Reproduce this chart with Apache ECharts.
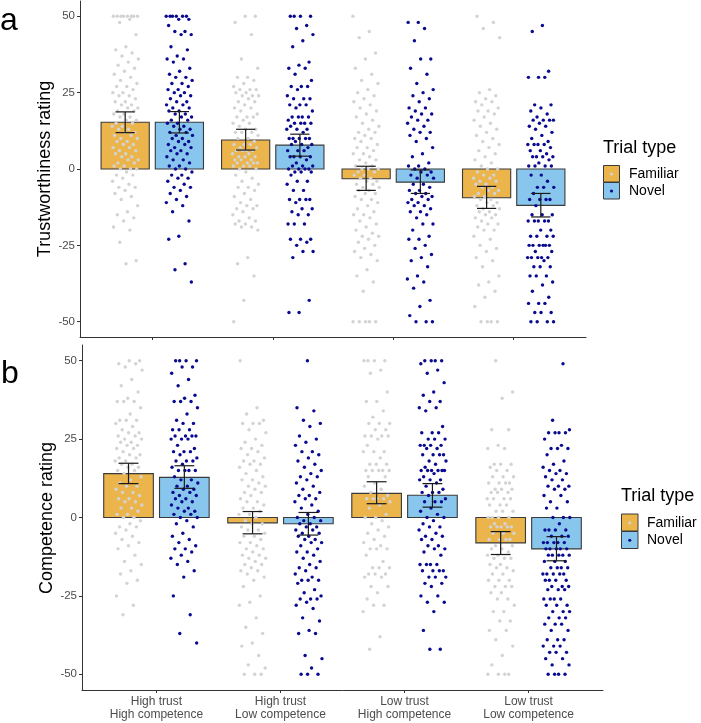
<!DOCTYPE html>
<html><head><meta charset="utf-8">
<script src="https://cdn.jsdelivr.net/npm/echarts@6/dist/echarts.min.js"></script>
<style>html,body{margin:0;padding:0;background:#fff}#c{width:701px;height:723px}</style>
</head><body><div id="c"></div>
<script>
const categories = ['High trust\nHigh competence','High trust\nLow competence','Low trust\nHigh competence','Low trust\nLow competence'];
const yTicks = [-50,-25,0,25,50];
const trialTypes = ['Familiar','Novel'];

// Panel a: trustworthiness rating
const trustFamiliarMean = [15.3, 9.5, -3.2, -9.4];
const trustFamiliarLow  = [11.9, 6.2, -7.0, -12.9];
const trustFamiliarHigh = [18.7, 13.0, 0.9, -5.7];
const trustNovelMean = [15.3, 7.8, -4.3, -11.9];
const trustNovelLow  = [11.8, 4.2, -8.0, -15.7];
const trustNovelHigh = [18.8, 11.4, -0.3, -8.0];

// Panel b: competence rating
const compFamiliarMean = [14.0, -1.7, 7.7, -8.1];
const compFamiliarLow  = [10.8, -5.2, 4.4, -11.8];
const compFamiliarHigh = [17.3, 1.9, 11.4, -4.5];
const compNovelMean = [12.8, -2.0, 7.1, -10.0];
const compNovelLow  = [9.3, -5.6, 3.3, -13.8];
const compNovelHigh = [16.5, 1.6, 10.8, -6.1];

// individual ratings, one list per category
const trustFamiliarPoints = [
 [50,50,50,50,50,50,50,50,49,48,44,40,39,38,37,36,35,34,33,32,31,30,29,28,27,27,26,25,25,24,24,23,22,22,21,21,20,20,19,19,18,18,17,17,16,16,15,15,14,14,13,13,12,12,11,11,10,10,9,9,8,8,7,7,6,6,5,5,4,4,3,3,2,2,1,1,0,0,0,-1,-2,-2,-3,-4,-5,-6,-6,-7,-8,-9,-10,-12,-14,-15,-16,-17,-19,-20,-24,-30,-31],
 [50,50,48,44,36,33,30,30,29,28,27,26,26,26,25,25,24,24,24,23,22,22,21,20,20,19,18,17,17,17,16,15,15,14,13,13,12,12,12,11,10,10,9,8,8,8,7,7,6,6,6,6,5,5,4,4,4,3,3,3,2,2,2,2,1,1,1,0,0,-1,-2,-3,-4,-5,-6,-6,-7,-8,-9,-10,-11,-12,-12,-13,-13,-14,-15,-16,-17,-17,-18,-18,-19,-19,-20,-29,-31,-35,-43,-50],
 [50,45,43,38,36,33,31,29,28,26,25,24,23,22,21,20,19,18,17,16,15,14,13,12,12,11,10,10,9,8,7,7,6,5,5,4,3,3,2,1,1,0,0,0,-1,-1,-2,-2,-3,-3,-4,-4,-5,-5,-6,-6,-7,-7,-8,-8,-9,-10,-10,-11,-12,-13,-14,-15,-15,-16,-17,-18,-19,-20,-21,-22,-22,-23,-24,-25,-26,-27,-28,-29,-30,-33,-35,-37,-40,-50,-50,-50,-50,-50],
 [50,48,46,43,26,25,24,23,22,22,21,20,19,19,18,17,16,15,14,13,12,11,10,9,8,7,6,5,4,3,2,1,0,0,-1,-2,-2,-3,-3,-4,-4,-5,-5,-6,-6,-7,-7,-8,-8,-9,-9,-10,-10,-11,-11,-12,-12,-13,-13,-14,-14,-15,-15,-16,-16,-17,-18,-18,-19,-20,-20,-22,-23,-25,-26,-27,-29,-30,-32,-35,-37,-38,-40,-42,-45,-50,-50,-50,-50]
];
const trustNovelPoints = [
 [50,50,50,50,50,50,49,49,47,45,45,44,44,40,39,37,36,36,35,33,32,31,30,30,29,28,28,27,26,26,25,25,24,24,23,22,22,21,21,20,20,19,19,18,18,17,17,16,16,15,15,14,14,13,13,12,12,11,11,10,10,9,9,8,8,7,7,6,6,5,5,4,3,3,2,1,1,0,0,-1,-2,-2,-3,-3,-4,-5,-6,-6,-7,-8,-9,-10,-11,-12,-14,-17,-22,-23,-31,-33,-37],
 [50,50,50,50,47,46,44,42,40,35,34,33,33,31,29,27,27,27,26,24,23,23,23,21,21,21,20,19,17,17,17,17,16,15,15,15,15,14,13,13,13,12,10,10,10,10,10,9,8,8,8,7,6,6,6,4,4,4,4,3,2,1,1,1,0,0,0,0,-1,-1,-1,-2,-4,-4,-5,-7,-7,-10,-10,-10,-10,-11,-13,-13,-14,-15,-15,-18,-18,-18,-23,-23,-23,-24,-25,-27,-27,-29,-43,-47,-47],
 [48,48,46,42,36,36,33,31,28,26,25,24,23,22,20,20,19,18,18,17,16,16,15,14,13,12,12,11,10,9,7,5,4,2,1,1,0,0,-1,-1,-2,-2,-3,-3,-5,-5,-6,-7,-7,-8,-8,-9,-9,-10,-10,-11,-11,-12,-12,-13,-14,-14,-15,-16,-18,-18,-20,-22,-23,-23,-25,-26,-28,-29,-30,-32,-35,-36,-37,-39,-43,-45,-48,-50,-50,-50],
 [47,45,32,30,30,30,21,21,20,19,18,17,16,16,16,16,15,14,14,13,12,11,10,9,8,8,8,8,7,6,6,5,4,4,4,4,3,2,1,1,1,1,-2,-2,-4,-6,-6,-6,-8,-10,-10,-10,-10,-12,-15,-15,-15,-17,-17,-17,-17,-17,-20,-20,-22,-22,-22,-22,-25,-25,-25,-25,-25,-25,-27,-27,-29,-29,-29,-29,-29,-30,-32,-32,-32,-35,-35,-35,-37,-38,-40,-42,-44,-44,-44,-47,-47,-47,-50,-50,-50,-50]
];
const compFamiliarPoints = [
 [50,50,49,49,48,47,44,42,40,38,37,37,37,35,33,31,31,31,30,29,28,27,27,26,26,25,25,24,24,23,23,22,22,21,20,20,19,19,18,18,17,17,16,16,15,15,14,13,12,11,10,10,9,8,8,7,6,6,5,5,4,3,3,2,1,1,0,0,-1,-2,-3,-3,-4,-5,-6,-7,-8,-9,-10,-12,-14,-15,-17,-18,-20,-21,-25,-28,-31],
 [50,35,33,31,30,30,30,28,27,25,24,23,22,22,21,20,19,18,18,17,17,16,15,14,13,12,12,11,10,10,9,8,8,7,6,5,5,4,3,3,2,1,1,0,-1,-2,-2,-3,-4,-4,-5,-6,-6,-7,-8,-8,-9,-10,-10,-11,-12,-12,-13,-13,-14,-15,-15,-16,-17,-17,-18,-19,-20,-22,-25,-27,-28,-32,-35,-37,-40,-41,-44,-47,-48,-50,-50,-50],
 [50,50,50,50,47,46,40,37,37,34,32,30,30,30,28,28,26,26,26,26,25,23,21,21,21,19,17,17,17,15,15,15,15,15,13,13,11,10,9,8,7,6,6,6,6,5,4,3,1,0,0,-1,-2,-3,-4,-5,-6,-7,-8,-9,-10,-10,-10,-12,-14,-16,-16,-16,-18,-18,-18,-19,-19,-22,-22,-24,-26,-28,-28,-30,-38,-42],
 [50,40,38,28,28,23,22,22,17,17,17,16,15,15,13,13,13,11,11,11,11,9,9,9,8,8,8,6,6,6,6,4,4,4,2,2,2,0,0,0,0,-2,-2,-3,-3,-3,-3,-3,-5,-5,-5,-7,-7,-7,-7,-9,-9,-10,-10,-11,-12,-12,-13,-13,-13,-15,-15,-16,-16,-17,-18,-18,-20,-20,-20,-22,-22,-22,-24,-24,-26,-26,-28,-30,-30,-33,-33,-36,-36,-39,-41,-44,-47,-50,-50,-50,-50]
];
const compNovelPoints = [
 [50,50,50,50,48,48,46,44,42,39,38,37,37,37,35,33,31,30,30,28,28,28,26,26,26,26,25,25,25,23,22,21,21,21,20,19,18,18,18,17,16,15,15,15,15,13,12,12,11,10,10,9,9,8,8,7,7,6,6,5,5,4,3,3,2,2,1,1,0,0,-1,-2,-3,-5,-6,-7,-8,-9,-10,-10,-11,-12,-13,-14,-15,-17,-19,-25,-31,-37,-40],
 [50,35,34,31,30,29,26,25,24,23,21,21,20,19,18,17,16,15,14,13,13,12,11,10,9,8,7,7,6,6,5,4,3,2,1,0,0,-1,-1,-2,-2,-3,-3,-4,-4,-5,-5,-6,-6,-7,-7,-8,-8,-9,-10,-11,-11,-12,-13,-14,-15,-16,-16,-17,-18,-19,-20,-20,-20,-21,-23,-24,-25,-26,-26,-26,-27,-28,-29,-32,-33,-36,-37,-37,-44,-45,-48,-50,-50,-50],
 [50,50,50,50,49,47,46,43,40,39,37,37,35,35,34,29,27,27,27,25,25,25,23,23,23,23,22,22,20,20,20,20,18,18,17,16,15,15,15,15,15,15,14,13,12,12,12,11,10,9,8,8,8,7,6,5,5,5,3,2,1,0,0,-1,-2,-3,-3,-4,-5,-6,-6,-7,-7,-9,-9,-10,-10,-11,-12,-15,-15,-15,-15,-17,-17,-17,-17,-19,-19,-19,-21,-21,-22,-25,-25,-27,-27,-30,-36,-42,-42],
 [49,31,28,27,27,27,27,25,23,22,22,22,20,18,17,16,15,15,14,14,13,12,12,10,10,10,9,9,7,7,5,5,3,3,0,0,0,-2,-4,-4,-4,-4,-6,-6,-6,-8,-8,-8,-8,-8,-10,-10,-10,-10,-10,-12,-12,-12,-12,-12,-14,-14,-14,-16,-16,-16,-16,-18,-18,-18,-18,-18,-20,-20,-20,-20,-22,-22,-22,-23,-23,-23,-26,-26,-26,-26,-28,-28,-28,-30,-30,-30,-32,-32,-32,-34,-34,-34,-36,-36,-39,-39,-39,-41,-41,-41,-43,-43,-43,-45,-45,-47,-47,-50,-50,-50,-50]
];

const ORANGE = '#ECB54C', BLUE = '#88C6EE', GRAYPT = '#D3D3D3', NAVY = '#0A0A90';
const FONT = '"Liberation Sans", Arial, Helvetica, sans-serif';
const DODGE = 0.225, HALFBAR = 0.2, CAP = 0.08, JW = 0.11;

function jitter(i, seed){ const f = ((i + 1) * 0.6180339887 + seed) % 1; return (f - 0.5) * 2 * JW; }

function barSeries(g, means, off, color){
  return { type:'custom', xAxisIndex:g, yAxisIndex:g, z:1, silent:true,
    data: means.map((m,i)=>[i+1+off, m]),
    renderItem:(p, api)=>{
      const x = api.value(0), y = api.value(1);
      const a = api.coord([x-HALFBAR, y]), b = api.coord([x+HALFBAR, 0]);
      return { type:'rect', shape:{x:a[0], y:Math.min(a[1],b[1]), width:b[0]-a[0], height:Math.abs(b[1]-a[1])},
        style:{fill:color, stroke:'#3a3a3a', lineWidth:1.1} };
    }};
}
function errSeries(g, lo, hi, off){
  return { type:'custom', xAxisIndex:g, yAxisIndex:g, z:5, silent:true,
    dimensions:['x','lo','hi'], encode:{x:0, y:[1,2]},
    data: lo.map((l,i)=>[i+1+off, l, hi[i]]),
    renderItem:(p, api)=>{
      const x = api.value(0);
      const L = api.coord([x, api.value(1)]), H = api.coord([x, api.value(2)]);
      const xa = api.coord([x-CAP, 0])[0], xb = api.coord([x+CAP, 0])[0];
      const st = {stroke:'#1a1a1a', lineWidth:1.2};
      return { type:'group', children:[
        {type:'line', shape:{x1:L[0], y1:L[1], x2:H[0], y2:H[1]}, style:st},
        {type:'line', shape:{x1:xa, y1:L[1], x2:xb, y2:L[1]}, style:st},
        {type:'line', shape:{x1:xa, y1:H[1], x2:xb, y2:H[1]}, style:st}
      ]};
    }};
}
function pointSeries(g, lists, off, color, seed){
  const data = [];
  lists.forEach((vals, c)=>vals.forEach((v, i)=>data.push([c+1+off+jitter(i, seed+c*0.137), v])));
  return { type:'scatter', xAxisIndex:g, yAxisIndex:g, z:3, silent:true, symbolSize:3.4,
    itemStyle:{color:color, opacity:1}, data:data };
}

function xAxis(g, showLabels){
  return { type:'value', gridIndex:g, min:0.4, max:4.6, splitLine:{show:false},
    axisLine:{show:true, onZero:false, lineStyle:{color:'#333', width:1}},
    axisTick:{show:true, length:3, customValues:[1,2,3,4], lineStyle:{color:'#333'}},
    axisLabel:{show:showLabels, customValues:[1,2,3,4], formatter:v=>categories[Math.round(v)-1] || '',
      color:'#4D4D4D', fontSize:12, fontFamily:FONT, lineHeight:13, margin:5} };
}
function yAxis(g){
  return { type:'value', gridIndex:g, min:-55, max:55, splitLine:{show:false},
    axisLine:{show:true, onZero:false, lineStyle:{color:'#333', width:1}},
    axisTick:{show:true, length:3, customValues:yTicks, lineStyle:{color:'#333'}},
    axisLabel:{customValues:yTicks, color:'#4D4D4D', fontSize:11.5, fontFamily:FONT, margin:5} };
}

function legend(x, yTitle, yKey, key, textX){
  const els = [{type:'text', x:x, y:yTitle, style:{text:'Trial type', font:'18px '+FONT, fill:'#000', textAlign:'left', textVerticalAlign:'middle'}}];
  const fills = [ORANGE, BLUE], dots = [GRAYPT, NAVY];
  trialTypes.forEach((t,i)=>{
    const y0 = yKey + i*key;
    els.push({type:'rect', shape:{x:x+0.5, y:y0, width:key-1, height:key-0.5}, style:{fill:fills[i], stroke:'#3a3a3a', lineWidth:1}});
    els.push({type:'circle', shape:{cx:x+key/2, cy:y0+key/2, r:1.6}, style:{fill:dots[i]}});
    els.push({type:'text', x:textX, y:y0+key/2, style:{text:t, font:'14px '+FONT, fill:'#000', textAlign:'left', textVerticalAlign:'middle'}});
  });
  return els;
}

const chart = echarts.init(document.getElementById('c'));
chart.setOption({
  animation:false,
  backgroundColor:'#fff',
  grid:[
    {left:80, right:115, top:1, bottom:386, containLabel:false, outerBoundsMode:'none'},
    {left:82, right:98, top:345, bottom:33, containLabel:false, outerBoundsMode:'none'}
  ],
  xAxis:[xAxis(0,false), xAxis(1,true)],
  yAxis:[yAxis(0), yAxis(1)],
  series:[
    barSeries(0, trustFamiliarMean, -DODGE, ORANGE),
    barSeries(0, trustNovelMean, DODGE, BLUE),
    pointSeries(0, trustFamiliarPoints, -DODGE, GRAYPT, 0.11),
    pointSeries(0, trustNovelPoints, DODGE, NAVY, 0.53),
    errSeries(0, trustFamiliarLow, trustFamiliarHigh, -DODGE),
    errSeries(0, trustNovelLow, trustNovelHigh, DODGE),
    barSeries(1, compFamiliarMean, -DODGE, ORANGE),
    barSeries(1, compNovelMean, DODGE, BLUE),
    pointSeries(1, compFamiliarPoints, -DODGE, GRAYPT, 0.29),
    pointSeries(1, compNovelPoints, DODGE, NAVY, 0.71),
    errSeries(1, compFamiliarLow, compFamiliarHigh, -DODGE),
    errSeries(1, compNovelLow, compNovelHigh, DODGE)
  ],
  graphic:[
    {type:'text', x:0, y:21, style:{text:'a', font:'32px '+FONT, fill:'#000', textAlign:'left', textVerticalAlign:'middle'}},
    {type:'text', x:1, y:374, style:{text:'b', font:'32px '+FONT, fill:'#000', textAlign:'left', textVerticalAlign:'middle'}},
    {type:'text', x:45, y:169, rotation:Math.PI/2, style:{text:'Trustworthiness rating', font:'18px '+FONT, fill:'#000', textAlign:'center', textVerticalAlign:'middle'}},
    {type:'text', x:47, y:518, rotation:Math.PI/2, style:{text:'Competence rating', font:'18px '+FONT, fill:'#000', textAlign:'center', textVerticalAlign:'middle'}}
  ].concat(legend(603, 148, 165.5, 17, 629)).concat(legend(621, 496, 514, 17.5, 647))
});
</script></body></html>
